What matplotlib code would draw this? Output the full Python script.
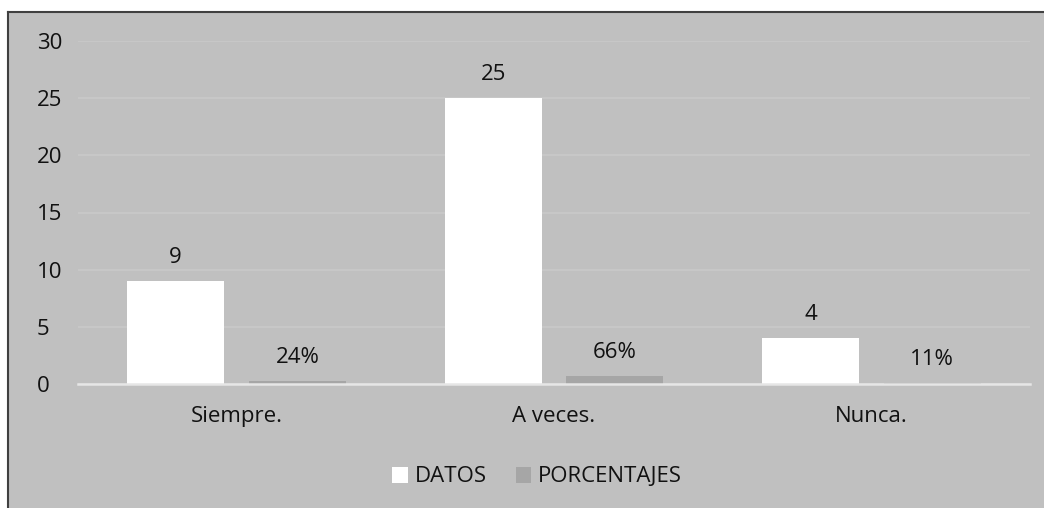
import matplotlib
matplotlib.use("Agg")
import matplotlib.pyplot as plt
from matplotlib.patches import Rectangle

categories = ["Siempre.", "A veces.", "Nunca."]
datos = [9, 25, 4]
porcentajes = [0.24, 0.66, 0.11]
porcentaje_labels = ["24%", "66%", "11%"]

plt.rcParams['font.family'] = ['Open Sans', 'DejaVu Sans']
W, H = 1044, 508
fig = plt.figure(figsize=(W/100, H/100), dpi=100)
fig.patch.set_facecolor('white')
bg = '#c0c0c0'
rect = Rectangle((8/W, 0), 1 - 8/W, 1 - 12/H, transform=fig.transFigure,
                 facecolor=bg, edgecolor='none', zorder=-10)
fig.patches.append(rect)
fig.lines.append(plt.Line2D([8/W, 1], [1 - 12/H, 1 - 12/H], transform=fig.transFigure,
                            color='#404040', lw=1.5, zorder=-5))
fig.lines.append(plt.Line2D([8/W, 8/W], [0, 1 - 12/H], transform=fig.transFigure,
                            color='#404040', lw=1.5, zorder=-5))

ax = fig.add_axes([78/W, 1 - 384/H, (1030 - 78)/W, (384 - 41)/H])
ax.set_zorder(1)
ax.set_facecolor('none')
x = list(range(len(categories)))
bw = 0.306
off = 0.192
b1 = ax.bar([i - off for i in x], datos, width=bw, color='white', label='DATOS', zorder=3)
b2 = ax.bar([i + off for i in x], porcentajes, width=bw, color='#a6a6a6', label='PORCENTAJES', zorder=3)

fs = 16
for i, v in enumerate(datos):
    ax.annotate(str(v), (i - off, v), xytext=(0, 17), textcoords='offset points',
                ha='center', va='center', fontsize=fs, color='#111111')
for i, v in enumerate(porcentajes):
    ax.annotate(porcentaje_labels[i], (i + off, v), xytext=(0, 17), textcoords='offset points',
                ha='center', va='center', fontsize=fs, color='#111111')

ax.set_xlim(-0.5, 2.5)
ax.set_ylim(0, 30)
ax.set_yticks(range(0, 31, 5))
ax.set_xticks(x)
ax.set_xticklabels(categories)
ax.tick_params(axis='both', length=0, labelsize=fs, colors='#111111')
ax.tick_params(axis='x', pad=16)
ax.tick_params(axis='y', pad=(78 - 37) * 0.72)
for lbl in ax.get_yticklabels():
    lbl.set_horizontalalignment('left')
ax.yaxis.grid(True, color='#c9c9c9', lw=1.2, zorder=0)
for s in ['top', 'right', 'left']:
    ax.spines[s].set_visible(False)
ax.spines['bottom'].set_color('#e6e6e6')
ax.spines['bottom'].set_linewidth(1.8)
ax.spines['bottom'].set_zorder(4)

leg = fig.legend(handles=[b1, b2], labels=['DATOS', 'PORCENTAJES'], loc='center',
                 bbox_to_anchor=(537/W, 1 - 477/H), ncol=2, frameon=False, fontsize=fs,
                 handlelength=0.7, handleheight=0.7, handletextpad=0.3, columnspacing=1.3)
for t in leg.get_texts():
    t.set_color('#111111')

fig.savefig('out.png', dpi=100, facecolor='white')
